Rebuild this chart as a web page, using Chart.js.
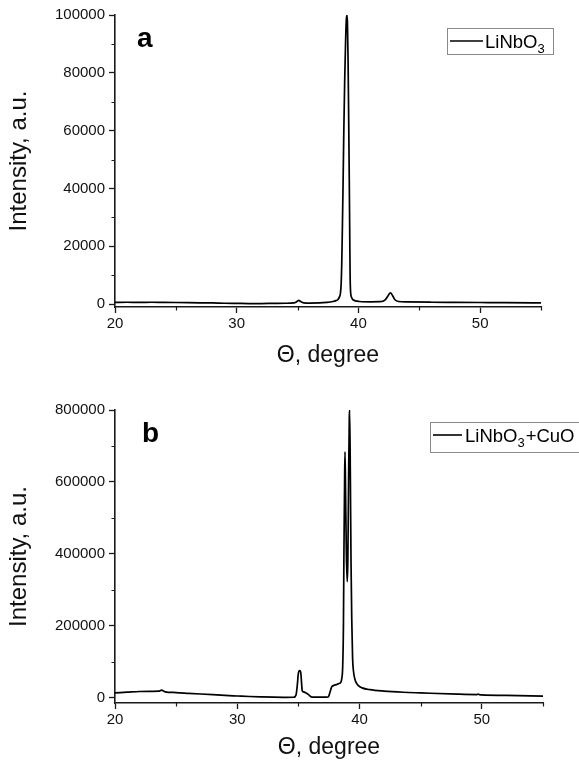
<!DOCTYPE html>
<html><head><meta charset="utf-8">
<script src="https://cdn.jsdelivr.net/npm/chart.js@4.4.1/dist/chart.umd.min.js"></script>
<style>
html,body{margin:0;padding:0;background:#fff;width:579px;height:764px;overflow:hidden}
.p{position:absolute;left:0;width:579px;height:382px}
#wa{top:0}
#wb{top:382px}
</style></head><body>
<div id="wa" class="p"><canvas id="ca" width="579" height="382"></canvas></div>
<div id="wb" class="p"><canvas id="cb" width="579" height="382"></canvas></div>
<script>
// ---- data ----
const xTickValues = [20, 30, 40, 50];
const xMinorTicks = [25, 35, 45, 55];
const aYTicks = [0, 20000, 40000, 60000, 80000, 100000];
const aYMinor = [10000, 30000, 50000, 70000, 90000];
const bYTicks = [0, 200000, 400000, 600000, 800000];
const bYMinor = [100000, 300000, 500000, 700000];
const xTitle = 'Θ, degree';
const yTitle = 'Intensity, a.u.';

const aTheta = [20, 21, 22, 23, 24, 25, 26, 27, 28, 29, 30, 31, 32, 33, 34, 34.7, 34.95, 35.1, 35.25, 35.5, 36.0, 36.8, 37.4, 37.9, 38.15, 38.3, 38.45, 38.52, 38.58, 38.63, 38.68, 38.74, 38.8, 38.87, 38.94, 39.0, 39.05, 39.1, 39.15, 39.2, 39.25, 39.29, 39.32, 39.36, 39.45, 39.55, 40.1, 41, 41.8, 42.2, 42.45, 42.62, 42.8, 43.0, 43.3, 44, 46, 48, 50, 52, 55];
const aIntensity = [600, 650, 600, 650, 600, 550, 500, 450, 400, 300, 250, 200, 200, 250, 300, 400, 900, 1300, 900, 450, 350, 400, 600, 900, 1200, 1500, 2600, 3700, 7000, 14000, 26000, 42000, 60000, 77000, 90000, 98000, 100000, 97000, 84000, 64000, 42000, 22000, 9000, 4000, 2200, 1500, 900, 800, 850, 1500, 3000, 3900, 3000, 1500, 900, 750, 650, 600, 550, 500, 400];

const bTheta = [20, 21, 22, 23, 23.6, 23.8, 24.1, 25, 26, 27, 28, 29, 30, 31, 32, 33, 34, 34.6, 34.8, 34.92, 34.98, 35.05, 35.12, 35.2, 35.26, 35.31, 35.4, 35.6, 35.8, 36.0, 36.1, 36.5, 37.0, 37.44, 37.6, 37.72, 37.9, 38.1, 38.3, 38.4, 38.55, 38.62, 38.68, 38.72, 38.78, 38.81, 38.86, 38.92, 38.99, 39.04, 39.1, 39.16, 39.19, 39.25, 39.3, 39.36, 39.43, 39.5, 39.62, 39.75, 39.9, 40.2, 40.85, 42, 43.57, 45, 48, 49.6, 49.7, 49.8, 50, 52, 55];
const bIntensity = [14000, 16000, 18000, 18500, 19000, 21500, 17000, 15000, 13000, 11000, 9000, 7000, 5500, 4000, 3000, 2200, 1800, 2000, 8000, 40000, 65000, 75000, 76000, 68000, 40000, 20000, 17000, 14500, 10000, 4000, 2500, 2500, 2500, 3000, 18000, 31000, 35000, 37000, 40000, 41000, 55000, 87000, 200000, 400000, 620000, 684000, 560000, 400000, 323000, 380000, 600000, 780000, 800000, 600000, 380000, 220000, 110000, 75000, 52000, 41000, 34000, 28000, 23000, 19000, 15800, 14000, 10500, 9500, 11000, 9200, 8500, 7000, 5000];

// ---- helpers ----
const FONT = "'Liberation Sans', Arial, sans-serif";
const AX = '#1a1a1a';

function toPoints(xs, ys) { return xs.map((x, i) => ({x: x, y: ys[i]})); }

const extras = {
  id: 'extras',
  afterDraw(chart, args, o) {
    const ctx = chart.ctx, xs = chart.scales.x, ys = chart.scales.y;
    const ca = chart.chartArea;
    ctx.save();
    // minor ticks
    ctx.strokeStyle = AX; ctx.lineWidth = 1.2;
    ctx.beginPath();
    o.xMinor.forEach(v => { const px = Math.round(xs.getPixelForValue(v)) + 0.5; ctx.moveTo(px, ca.bottom); ctx.lineTo(px, ca.bottom + 3.5); });
    o.yMinor.forEach(v => { const py = Math.round(ys.getPixelForValue(v)) + 0.5; ctx.moveTo(ca.left, py); ctx.lineTo(ca.left - 3.5, py); });
    ctx.stroke();
    // panel letter
    ctx.fillStyle = '#000';
    ctx.font = 'bold 28px ' + FONT;
    ctx.textBaseline = 'alphabetic'; ctx.textAlign = 'left';
    ctx.fillText(o.letter, o.lx, o.ly);
    // legend box
    const b = o.box;
    ctx.strokeStyle = '#8a8a8a'; ctx.lineWidth = 1;
    ctx.strokeRect(b.x + 0.5, b.y + 0.5, b.w, b.h);
    ctx.strokeStyle = '#000'; ctx.lineWidth = 1.6;
    ctx.beginPath(); ctx.moveTo(b.l1, b.ly); ctx.lineTo(b.l2, b.ly); ctx.stroke();
    let tx = b.tx;
    o.parts.forEach(p => {
      ctx.font = (p.sub ? '13px ' : '18.5px ') + FONT;
      ctx.fillText(p.t, tx, b.base + (p.sub ? 5 : 0));
      tx += ctx.measureText(p.t).width + (p.sub ? 1 : 0);
    });
    ctx.restore();
  }
};

function makeChart(id, xs, ys, cfg) {
  return new Chart(document.getElementById(id), {
    type: 'line',
    data: { datasets: [{ data: toPoints(xs, ys), borderColor: '#000', borderWidth: 1.7, pointRadius: 0, cubicInterpolationMode: 'monotone', fill: false, borderJoinStyle: 'round' }] },
    options: {
      responsive: false, animation: false, devicePixelRatio: 1,
      layout: { padding: { left: 0, top: cfg.top, right: cfg.right, bottom: 0 } },
      plugins: { legend: { display: false }, tooltip: { enabled: false }, extras: cfg.extras },
      scales: {
        x: {
          type: 'linear', min: 20, max: 55,
          afterBuildTicks: s => { s.ticks = xTickValues.map(v => ({value: v})); },
          afterFit: s => { s.height = cfg.xh; },
          grid: { drawOnChartArea: false, drawTicks: true, tickLength: 6, color: AX, tickWidth: 1.3 },
          border: { display: true, color: AX, width: 1.6 },
          ticks: { color: '#111', font: { family: FONT, size: 15 }, padding: 2, maxRotation: 0 },
          title: { display: true, text: xTitle, color: '#111', font: { family: FONT, size: 23 }, padding: { top: 0, bottom: cfg.xtp } }
        },
        y: {
          type: 'linear', min: cfg.ymin, max: cfg.ymax,
          afterBuildTicks: s => { s.ticks = cfg.yt.map(v => ({value: v})); },
          afterFit: s => { s.width = 115; },
          grid: { drawOnChartArea: false, drawTicks: true, tickLength: 6, color: AX, tickWidth: 1.3 },
          border: { display: true, color: AX, width: 1.6 },
          ticks: { color: '#111', font: { family: FONT, size: 15 }, padding: 4, callback: v => String(v) },
          title: { display: true, text: yTitle, color: '#111', font: { family: FONT, size: 24 }, padding: { top: 5, bottom: 0 } }
        }
      }
    },
    plugins: [extras]
  });
}

makeChart('ca', aTheta, aIntensity, {
  top: 15, right: 38, xh: 75, xtp: 13, ymin: -1000, ymax: 100000, yt: aYTicks,
  extras: { xMinor: xMinorTicks, yMinor: aYMinor, letter: 'a', lx: 137, ly: 47,
    box: { x: 447, y: 28, w: 106, h: 26, l1: 450, l2: 483, ly: 41, tx: 485, base: 48 },
    parts: [{t: 'LiNbO'}, {t: '3', sub: true}] }
});
makeChart('cb', bTheta, bIntensity, {
  top: 28, right: 36, xh: 61, xtp: 3, ymin: -14000, ymax: 800000, yt: bYTicks,
  extras: { xMinor: xMinorTicks, yMinor: bYMinor, letter: 'b', lx: 142, ly: 60,
    box: { x: 430, y: 40, w: 160, h: 30, l1: 433, l2: 462, ly: 53, tx: 465, base: 60 },
    parts: [{t: 'LiNbO'}, {t: '3', sub: true}, {t: '+CuO'}] }
});
</script>
</body></html>
